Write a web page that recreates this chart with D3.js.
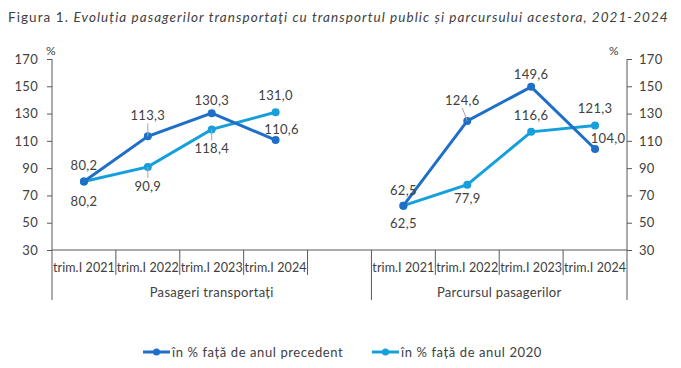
<!DOCTYPE html>
<html>
<head>
<meta charset="utf-8">
<script src="https://cdn.jsdelivr.net/npm/d3@7"></script>
<style>
  body { margin: 0; background: #fff; }
  svg text { font-family: "Lato", "Open Sans", sans-serif; fill: #404040; letter-spacing: 0.3px; }
</style>
</head>
<body>
<div id="chart"></div>
<script>
// data
var quarters = ['trim.I 2021', 'trim.I 2022', 'trim.I 2023', 'trim.I 2024'];
var groups = ['Pasageri transportați', 'Parcursul pasagerilor'];
var seriesNames = ['în % față de anul precedent', 'în % față de anul 2020'];
var passPrev = [80.2, 113.3, 130.3, 110.6];
var pass2020 = [80.2, 90.9, 118.4, 131.0];
var distPrev = [62.5, 124.6, 149.6, 104.0];
var dist2020 = [62.5, 77.9, 116.6, 121.3];
var yTicks = [30, 50, 70, 90, 110, 130, 150, 170];
var colors = ['#1f6fc9', '#15a0dc'];

var svgWidth = 681;
var svgHeight = 368;

var svg = d3.select('#chart').append('svg')
  .attr('width', svgWidth)
  .attr('height', svgHeight);

// title
var title = svg.append('text')
  .attr('x', 8)
  .attr('y', 22)
  .attr('font-size', '13.5px')
  .attr('textLength', 660)
  .attr('lengthAdjust', 'spacing');
title.append('tspan').text('Figura 1. ');
title.append('tspan').attr('font-style', 'italic')
  .text('Evoluția pasagerilor transportaţi cu transportul public și parcursului acestora, 2021-2024');

// 9 slots: 4 quarters, one empty, 4 quarters
var slots = ['a0', 'a1', 'a2', 'a3', 'gap', 'b0', 'b1', 'b2', 'b3'];
var x = d3.scaleBand().domain(slots).range([52, 627]);
var y = d3.scaleLinear().domain([30, 170]).range([250, 59]);

// axes
var leftAxis = svg.append('g')
  .attr('transform', 'translate(52,0)')
  .call(d3.axisLeft(y).tickValues(yTicks).tickSize(5).tickPadding(9));
var rightAxis = svg.append('g')
  .attr('transform', 'translate(627,0)')
  .call(d3.axisRight(y).tickValues(yTicks).tickSize(5).tickPadding(7));
[leftAxis, rightAxis].forEach(function(ax) {
  ax.select('.domain').remove();
  ax.selectAll('line').attr('stroke', '#595959');
  ax.selectAll('text').attr('font-size', '13px').attr('fill', '#404040')
    .style('font-family', '"Lato", sans-serif');
});

var axisColor = '#595959';
// vertical axis lines, extended down to group labels
svg.append('line').attr('x1', 52).attr('x2', 52).attr('y1', 59).attr('y2', 300)
  .attr('stroke', axisColor);
svg.append('line').attr('x1', 627).attr('x2', 627).attr('y1', 59).attr('y2', 300)
  .attr('stroke', axisColor);
// category baseline
svg.append('line').attr('x1', 52).attr('x2', 627).attr('y1', 250).attr('y2', 250)
  .attr('stroke', axisColor);

// category separators
var shortSeps = ['a1', 'a2', 'a3', 'gap', 'b1', 'b2', 'b3'];
shortSeps.forEach(function(s) {
  svg.append('line').attr('x1', x(s)).attr('x2', x(s)).attr('y1', 250).attr('y2', 275)
    .attr('stroke', axisColor);
});
svg.append('line').attr('x1', x('b0')).attr('x2', x('b0')).attr('y1', 250).attr('y2', 300)
  .attr('stroke', axisColor);

// category labels
var slotsA = ['a0', 'a1', 'a2', 'a3'];
var slotsB = ['b0', 'b1', 'b2', 'b3'];
[slotsA, slotsB].forEach(function(sl) {
  sl.forEach(function(s, i) {
    svg.append('text')
      .attr('x', x(s) + x.bandwidth() / 2)
      .attr('y', 272)
      .attr('text-anchor', 'middle')
      .attr('font-size', '12.5px')
      .style('letter-spacing', '0.1px')
      .text(quarters[i]);
  });
});
// group labels
svg.append('text').attr('x', (52 + x('b0')) / 2).attr('y', 297)
  .attr('text-anchor', 'middle').attr('font-size', '13px').text(groups[0]);
svg.append('text').attr('x', (x('b0') + 627) / 2).attr('y', 297)
  .attr('text-anchor', 'middle').attr('font-size', '13px').text(groups[1]);

// percent signs
svg.append('text').attr('x', 51).attr('y', 55).attr('text-anchor', 'middle')
  .attr('font-size', '12px').text('%');
svg.append('text').attr('x', 614).attr('y', 55).attr('text-anchor', 'middle')
  .attr('font-size', '12px').text('%');

var cx = function(s) { return x(s) + x.bandwidth() / 2; };
var line = d3.line()
  .x(function(d) { return cx(d.s); })
  .y(function(d) { return y(d.v); });

function toPts(sl, vals) {
  return vals.map(function(v, i) { return { s: sl[i], v: v }; });
}

var fmt = function(v) { return d3.format('.1f')(v).replace('.', ','); };

// label offsets [dx, dy] relative to point, plus optional leader
var seriesList = [
  { pts: toPts(slotsA, pass2020), color: colors[1],
    offs: [[0, 24], [0, 24], [0, 24], [0, -12]], leader: [false, true, true, false] },
  { pts: toPts(slotsA, passPrev), color: colors[0],
    offs: [[0, -12], [0, -16], [0, -8], [6, -6]], leader: [false, true, false, false] },
  { pts: toPts(slotsB, dist2020), color: colors[1],
    offs: [[0, 22], [0, 18], [0, -12], [0, -12]], leader: [false, false, false, false] },
  { pts: toPts(slotsB, distPrev), color: colors[0],
    offs: [[0, -11], [-5, -16], [0, -8], [13, -6]], leader: [false, true, false, false] }
];

seriesList.forEach(function(ser) {
  svg.append('path')
    .datum(ser.pts)
    .attr('d', line)
    .attr('fill', 'none')
    .attr('stroke', ser.color)
    .attr('stroke-width', 3);
  svg.selectAll(null)
    .data(ser.pts)
    .enter()
    .append('circle')
    .attr('cx', function(d) { return cx(d.s); })
    .attr('cy', function(d) { return y(d.v); })
    .attr('r', 4)
    .attr('fill', ser.color);
});

seriesList.forEach(function(ser) {
  ser.pts.forEach(function(d, i) {
    var px = cx(d.s), py = y(d.v);
    var o = ser.offs[i];
    if (ser.leader[i]) {
      var ly = o[1] < 0 ? py + o[1] + 3 : py + o[1] - 13;
      svg.append('line')
        .attr('x1', px + o[0]).attr('y1', ly)
        .attr('x2', px).attr('y2', py)
        .attr('stroke', '#a6a6a6').attr('stroke-width', 1);
    }
    svg.append('text')
      .attr('x', px + o[0])
      .attr('y', py + o[1])
      .attr('text-anchor', 'middle')
      .attr('font-size', '13px')
      .text(fmt(d.v));
  });
});

// legend
var legend = [
  { x: 143, name: seriesNames[0], color: colors[0] },
  { x: 372, name: seriesNames[1], color: colors[1] }
];
legend.forEach(function(l) {
  var g = svg.append('g').attr('transform', 'translate(' + l.x + ',352)');
  g.append('line').attr('x1', 0).attr('x2', 27).attr('y1', 0).attr('y2', 0)
    .attr('stroke', l.color).attr('stroke-width', 3);
  g.append('circle').attr('cx', 13.5).attr('cy', 0).attr('r', 3.5).attr('fill', l.color);
  g.append('text').attr('x', 29).attr('y', 4.5).attr('font-size', '13px')
    .style('letter-spacing', '0.6px').text(l.name);
});
</script>
</body>
</html>
